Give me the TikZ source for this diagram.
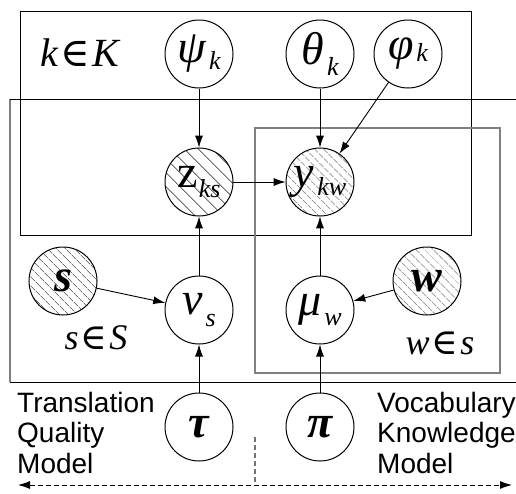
\documentclass[tikz,border=0pt]{standalone}
\usepackage{fontspec}
\setmainfont{Liberation Serif}
\newfontfamily\labelsans{Liberation Sans}
\newfontfamily\symserif{DejaVu Serif}
\usetikzlibrary{arrows.meta,patterns.meta}

% variable letters and their indices
\newcommand\vbig{\fontsize{46}{48}\selectfont\itshape}
\newcommand\vsmall{\fontsize{26}{28}\selectfont\itshape}
\newcommand\varsub[3][9]{{\vbig #2}\kern3pt\raisebox{-#1pt}{\vsmall #3}}
\newcommand\platelabel[3]{{\fontsize{#1}{#1}\selectfont\itshape #2\kern2pt{\symserif\upshape\fontsize{#1}{#1}\selectfont ∈}\kern2pt#3}}

\tikzset{
  var/.style={circle, draw, line width=1pt, minimum size=68pt, inner sep=0pt},
  obs/.style={var, pattern={Lines[angle=-45,distance=6.5pt,line width=0.7pt]}, pattern color=black!85},
  obssparse/.style={var, pattern={Lines[angle=-45,distance=10.5pt,line width=0.7pt]}, pattern color=black!85},
  edge/.style={line width=0.9pt, -{Latex[length=12pt,width=8pt]}},
  plate/.style={line width=0.9pt},
  greyplate/.style={line width=1.1pt, draw=black!50},
  note/.style={font=\labelsans\fontsize{28}{30.5}\selectfont, align=left, inner sep=0pt, anchor=north west},
}

\begin{document}
\begin{tikzpicture}[x=1pt,y=-1pt]
\useasboundingbox (0,0) rectangle (516,493);

% plates
\draw[plate] (20,11) rectangle (471,235);
\draw[greyplate] (10,382) -- (10,99);
\draw[plate] (10,99) -- (516,99);
\draw[plate] (10,382) -- (516,382);
\draw[greyplate] (255,128) rectangle (500,373);

\node at (80,53) {\platelabel{40}{k}{K}};
\node at (96,338) {\platelabel{36}{s}{S}};
\node at (440,343) {\platelabel{36}{w}{s}};

% variables
\node[var] (psi) at (199,54) {\varsub[7]{ψ}{k}};
\node[var] (theta) at (320,54) {\varsub[11]{θ}{k}};
\node[var] (phi) at (408,54) {\varsub[2]{φ}{k}};
\node[obssparse] (z) at (199,182) {{\vbig\upshape z}\kern1pt\raisebox{-10pt}{\vsmall ks}};
\node[obs] (y) at (320,182) {\varsub[8]{y}{kw}};
\node[obs] (s) at (63,281) {{\vbig\bfseries s}};
\node[var] (nu) at (199,310) {\varsub[12]{ν}{s}};
\node[var] (mu) at (320,310) {\varsub[10]{μ}{w}};
\node[obs] (w) at (427,281) {{\vbig\bfseries w}};
\node[var] (tau) at (199,427) {{\vbig\bfseries τ}};
\node[var] (pi) at (320,427) {{\vbig\bfseries π}};

% dependencies
\draw[edge] (psi) -- (z);
\draw[edge] (theta) -- (y);
\draw[edge] (phi) -- (y);
\draw[edge] (z) -- (y);
\draw[edge] (nu) -- (z);
\draw[edge] (mu) -- (y);
\draw[edge] (s) -- (nu);
\draw[edge] (w) -- (mu);
\draw[edge] (tau) -- (nu);
\draw[edge] (pi) -- (mu);

% model annotations
\node[note] (tqm) at (17,392) {Translation\\Quality\\Model};
\node[note] (vkm) at (377,392) {Vocabulary\\Knowledge\\Model};

\coordinate (split) at (255,437);
\coordinate (splitfoot) at (255,485);
\coordinate (leftend) at (18,485);
\coordinate (rightend) at (512,485);
\draw[line width=1.1pt, draw=black!55, dash pattern=on 5pt off 3pt] (split) -- (splitfoot);
\draw[line width=0.9pt, dash pattern=on 5pt off 3pt, {Latex[length=12pt,width=8pt]}-{Latex[length=12pt,width=8pt]}] (leftend) -- (rightend);
\end{tikzpicture}
\end{document}
